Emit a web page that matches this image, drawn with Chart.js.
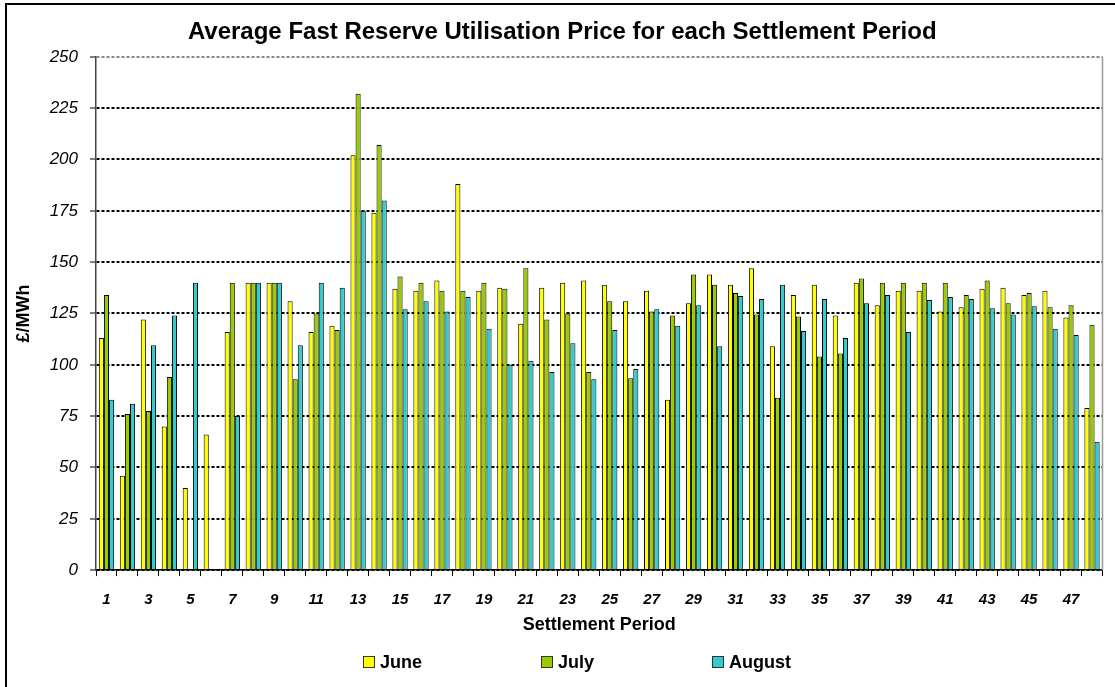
<!DOCTYPE html>
<html lang="en">
<head>
    <meta charset="UTF-8">
    <title>Average Fast Reserve Utilisation Price</title>
    <script src="https://cdn.jsdelivr.net/npm/chart.js"></script>
    <style>
        body {
            margin: 0;
            background-color: #fff;
            font-family: "Liberation Sans", Arial, sans-serif;
        }
        #wrap {
            position: relative;
            width: 1115px;
            height: 687px;
            overflow: hidden;
        }
        #frame {
            position: absolute;
            left: 5px;
            top: 3px;
            right: -10px;
            bottom: -10px;
            border-top: 2px solid #000;
            border-left: 2px solid #000;
            pointer-events: none;
        }
        #legend {
            position: absolute;
            left: 363px;
            top: 652px;
            display: flex;
        }
        .item {
            display: flex;
            align-items: center;
            gap: 5px;
            font-size: 18px;
            font-weight: bold;
            line-height: 20px;
            color: #000;
        }
        .box {
            width: 10px;
            height: 10px;
            border: 1px solid #333;
        }
    </style>
</head>
<body>
    <div id="wrap">
        <canvas id="fastReserveChart"></canvas>
        <div id="frame"></div>
        <div id="legend"></div>
    </div>

    <script>
        // settlement periods 1..48
        const periods = [
            '1', '2', '3', '4', '5', '6', '7', '8', '9', '10', '11', '12',
            '13', '14', '15', '16', '17', '18', '19', '20', '21', '22', '23', '24',
            '25', '26', '27', '28', '29', '30', '31', '32', '33', '34', '35', '36',
            '37', '38', '39', '40', '41', '42', '43', '44', '45', '46', '47', '48'
        ];

        // £/MWh
        const june = [
            113, 46, 122, 70, 40, 66, 116, 140, 140, 131, 116, 119,
            202, 174, 137, 136, 141, 188, 136, 137.5, 120, 137.5, 140, 141,
            139, 131, 136, 83, 130, 144, 139, 147, 109, 134, 139, 124,
            140, 129, 136, 136, 126, 128, 137, 137.5, 134, 136, 123, 79
        ];
        const july = [
            134, 76, 77.5, 94, null, null, 140, 140, 140, 93, 125, 117,
            232, 207, 143, 140, 136, 136, 140, 137, 147, 122, 125, 96.5,
            131, 93.5, 126, 124, 144, 139, 135, 124.5, 84, 123.5, 104, 105.5,
            142, 140, 140, 140, 140, 134, 141, 130, 135, 128, 129, 119.5
        ];
        const august = [
            83, 81, 109.5, 124, 140, null, 75, 140, 140, 109.5, 140, 137.5,
            175, 180, 127, 131, 126, 133, 117.5, 100, 102, 96.5, 110.5, 93,
            117, 98, 127, 119, 129, 109, 133.5, 132, 139, 116.5, 132, 113,
            130, 134, 116, 131.5, 133, 132, 127.5, 124.5, 128.5, 117.5, 114.5, 62.5
        ];

        const seriesNames = ['June', 'July', 'August'];
        const seriesColors = ['#FFFF00', '#99CC00', '#33CCCC'];
        const yTicks = [0, 250, 25]; // min, max, step

        const fontFamily = '"Liberation Sans", Arial, sans-serif';

        // gray line down the right side of the plot area
        const plotFrame = {
            id: 'plotFrame',
            beforeDatasetsDraw(chart) {
                const { ctx, chartArea } = chart;
                ctx.save();
                ctx.strokeStyle = '#999';
                ctx.lineWidth = 1.5;
                ctx.beginPath();
                ctx.moveTo(chartArea.right, chartArea.top);
                ctx.lineTo(chartArea.right, chartArea.bottom);
                ctx.stroke();
                ctx.restore();
            }
        };

        const canvas = document.getElementById('fastReserveChart');
        canvas.width = 1115;
        canvas.height = 687;

        new Chart(canvas.getContext('2d'), {
            type: 'bar',
            data: {
                labels: periods,
                datasets: [june, july, august].map((values, i) => ({
                    label: seriesNames[i],
                    data: values,
                    backgroundColor: seriesColors[i],
                    borderColor: '#000',
                    borderWidth: 1,
                    barPercentage: 1.0,
                    categoryPercentage: 0.73
                }))
            },
            options: {
                responsive: false,
                animation: false,
                layout: {
                    // left padding is wider so the title centres where the original's does
                    padding: { left: 22, right: 12.5, top: 2, bottom: 49 }
                },
                plugins: {
                    legend: { display: false },
                    tooltip: { enabled: false },
                    title: {
                        display: true,
                        text: 'Average Fast Reserve Utilisation Price for each Settlement Period',
                        color: '#000',
                        font: { family: fontFamily, size: 24, weight: 'bold' },
                        padding: { top: 16, bottom: 10 }
                    }
                },
                scales: {
                    x: {
                        grid: {
                            offset: true,
                            drawOnChartArea: false,
                            color: '#000',
                            tickLength: 6
                        },
                        border: { color: '#000', width: 1.5 },
                        ticks: {
                            autoSkip: false,
                            maxRotation: 0,
                            padding: 15.8,
                            color: '#000',
                            font: { family: fontFamily, size: 15, style: 'italic', weight: 'bold', lineHeight: 1 },
                            callback: function (value, index) {
                                return index % 2 === 0 ? this.getLabelForValue(value) : '';
                            }
                        },
                        title: {
                            display: true,
                            text: 'Settlement Period',
                            color: '#000',
                            font: { family: fontFamily, size: 18, weight: 'bold', lineHeight: 1 },
                            padding: { top: -6.7, bottom: 4 }
                        }
                    },
                    y: {
                        min: yTicks[0],
                        max: yTicks[1],
                        afterFit(scale) {
                            scale.width = 74;
                        },
                        ticks: {
                            stepSize: yTicks[2],
                            padding: 12,
                            color: '#000',
                            font: { family: fontFamily, size: 17, style: 'italic' }
                        },
                        grid: {
                            color: ctx => ctx.tick && ctx.tick.value === yTicks[1] ? '#888' : '#000',
                            lineWidth: 2,
                            tickColor: '#000',
                            tickWidth: 1,
                            tickLength: 6
                        },
                        border: { color: '#444', width: 1.5, dash: [3, 2] },
                        title: {
                            display: true,
                            text: '£/MWh',
                            color: '#000',
                            font: { family: fontFamily, size: 18, weight: 'bold' },
                            padding: { top: -9, bottom: 0 }
                        }
                    }
                }
            },
            plugins: [plotFrame]
        });

        // legend below the axis title, spaced like the original
        const legendWidths = [178, 171, 100];
        const legend = document.getElementById('legend');
        seriesNames.forEach((name, i) => {
            const item = document.createElement('div');
            item.className = 'item';
            item.style.width = legendWidths[i] + 'px';
            const box = document.createElement('span');
            box.className = 'box';
            box.style.backgroundColor = seriesColors[i];
            const text = document.createElement('span');
            text.textContent = name;
            item.appendChild(box);
            item.appendChild(text);
            legend.appendChild(item);
        });
    </script>
</body>
</html>
